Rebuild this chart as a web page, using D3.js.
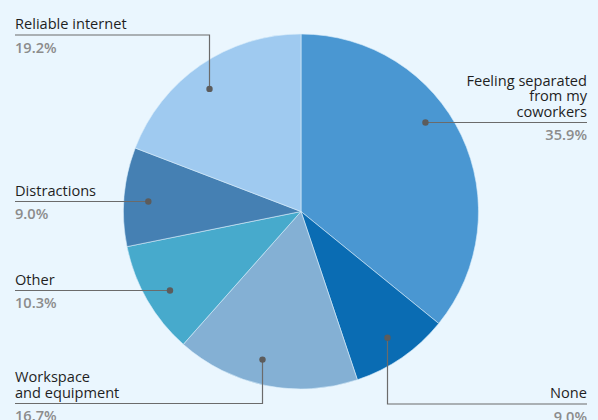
<!DOCTYPE html>
<html><head><meta charset="utf-8">
<script src="https://cdn.jsdelivr.net/npm/d3@7"></script>
<style>
html,body{margin:0;padding:0;background:#eaf6fe;}
svg{display:block;font-family:"Open Sans",sans-serif;}
</style></head><body>
<svg id="c" width="598" height="420"></svg>
<script>
// Data
const categories = ["Feeling separated from my coworkers","None","Workspace and equipment","Other","Distractions","Reliable internet"];
const values = [35.9, 9.0, 16.7, 10.3, 9.0, 19.2];
const labelLines = [["Feeling separated","from my","coworkers"],["None"],["Workspace","and equipment"],["Other"],["Distractions"],["Reliable internet"]];
const colors = ["#4a97d2","#0a6cb3","#84b0d4","#47aacc","#4580b3","#9fcaf0"];

// Label layout (style/position only)
const labelLayout = [
  {side:"right", lineY:122.5, mode:"h"},
  {side:"right", lineY:404, mode:"v", dotX:387.5},
  {side:"left", lineY:403.5, mode:"v", dotX:262.5},
  {side:"left", lineY:290.5, mode:"h"},
  {side:"left", lineY:201.5, mode:"h"},
  {side:"left", lineY:35, mode:"v", dotX:209.5}
];

const W=598,H=420, cx=301, cy=211.5, R=177.5, rDot=153;
const leftX=15, rightX=587, fs=14.6;
const svg=d3.select("#c");
svg.append("rect").attr("width",W).attr("height",H).attr("fill","#eaf6fe");

const data = categories.map((c,i)=>({c, v:values[i], i}));
const pie = d3.pie().sort(null).value(d=>d.v);
const arc = d3.arc().innerRadius(0).outerRadius(R);
const arcs = pie(data);
const g = svg.append("g").attr("transform",`translate(${cx},${cy})`);
g.selectAll("path").data(arcs).join("path")
  .attr("d",arc).attr("fill",d=>colors[d.data.i])
  .attr("stroke","#d8ecfa").attr("stroke-width",0.6);

const lab = svg.append("g");
arcs.forEach((a,i)=>{
  const L = labelLayout[i];
  let dx, dy;
  if(L.mode==="h"){
    dy = L.lineY - cy;
    dx = Math.sqrt(rDot*rDot - dy*dy) * (L.side==="right"?1:-1);
  } else {
    dx = L.dotX - cx;
    const mid=(a.startAngle+a.endAngle)/2;
    dy = Math.sqrt(rDot*rDot - dx*dx) * (Math.cos(mid)>0?-1:1);
  }
  const px=cx+dx, py=cy+dy;
  const endX = L.side==="right"?rightX:leftX;
  let pts;
  if(L.mode==="h") pts=[[px,py],[endX,L.lineY]];
  else pts=[[px,py],[px,L.lineY],[endX,L.lineY]];
  lab.append("path").attr("d",d3.line()(pts)).attr("fill","none")
    .attr("stroke","#6b6b6b").attr("stroke-width",1.2);
  lab.append("circle").attr("cx",px).attr("cy",py).attr("r",3.2).attr("fill","#5c5c5c");
  const anchor = L.side==="right"?"end":"start";
  const lines = labelLines[i];
  lines.forEach((t,k)=>{
    lab.append("text").attr("x",endX).attr("y",L.lineY-6-(lines.length-1-k)*15.5)
      .attr("text-anchor",anchor).attr("font-size",fs).attr("fill","#1f1f1f").text(t);
  });
  lab.append("text").attr("x",endX).attr("y",L.lineY+17.5)
    .attr("text-anchor",anchor).attr("font-size",fs).attr("font-weight",600)
    .attr("fill","#8c8c8c").text(d3.format(".1f")(a.data.v)+"%");
});
</script>
</body></html>
